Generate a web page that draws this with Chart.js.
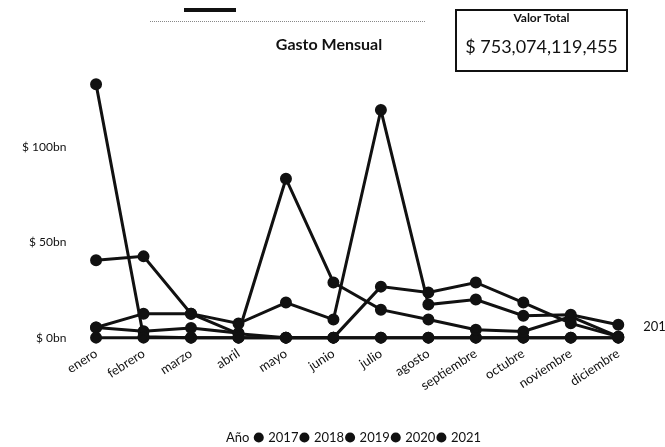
<!DOCTYPE html>
<html>
<head>
<meta charset="utf-8">
<script src="https://cdn.jsdelivr.net/npm/chart.js@4"></script>
<style>
  html, body { margin: 0; padding: 0; background: #fff; }
  #wrap { position: relative; width: 665px; height: 447px; overflow: hidden; }
  #c { position: absolute; left: 0; top: 0; }
  #kpi { position: absolute; left: 455px; top: 9px; width: 173px; height: 63px; border: 2px solid #111; box-sizing: border-box; text-align: center; font-family: Lato, "Liberation Sans", sans-serif; color: #111; }
  #kpi .t { font-weight: bold; font-size: 12px; line-height: 14px; margin-top: 0px; }
  #kpi .v { font-size: 18px; line-height: 20px; margin-top: 11px; }
  #bar { position: absolute; left: 184px; top: 8px; width: 52px; height: 4px; background: #111; }
  #faint { position: absolute; left: 150px; top: 21px; width: 275px; height: 0; border-top: 1px dotted #888; }
</style>
</head>
<body>
<div id="wrap">
  <canvas id="c" width="665" height="447"></canvas>
  <div id="bar"></div>
  <div id="faint"></div>
  <div id="kpi"><div class="t">Valor Total</div><div class="v">$ 753,074,119,455</div></div>
</div>
<script>
const months = ['enero','febrero','marzo','abril','mayo','junio','julio','agosto','septiembre','octubre','noviembre','diciembre'];
const years = ['2017','2018','2019','2020','2021'];
const v2017 = [0, 0, 0, 0, 0, 0, 26.8, 23.7, 29, 18.4, 7.5, 0.5];
const v2018 = [5.3, 12.6, 12.6, 7.4, 18.4, 9.5, 119.6, 17.4, 20, 11.5, 12, 6.8];
const v2019 = [5.3, 3.4, 5, 2.4, 83.5, 29, 14.7, 9.5, 4.2, 3.2, 11, 0.5];
const v2020 = [133.2, 0.5, 0, 0, 0, 0, 0, 0, 0, 0, 0, 0];
const v2021 = [40.6, 42.7, 12.6, 2, 0, 0, 0, 0, 0, 0, 0, 0];
const yTicks = [0, 50, 100];

const seriesValues = [v2017, v2018, v2019, v2020, v2021];
const FONT = 'Lato, "Liberation Sans", sans-serif';

const endLabel = {
  id: 'endLabel',
  afterDatasetsDraw(chart) {
    const meta = chart.getDatasetMeta(1);
    const p = meta.data[meta.data.length - 1];
    const ctx = chart.ctx;
    ctx.save();
    ctx.fillStyle = '#111';
    ctx.font = '13px ' + FONT;
    ctx.textBaseline = 'middle';
    ctx.fillText(years[1], p.x + 25, p.y + 2);
    ctx.restore();
  }
};

new Chart(document.getElementById('c'), {
  type: 'line',
  data: {
    labels: months,
    datasets: years.map((y, i) => ({
      label: y,
      data: seriesValues[i],
      borderColor: '#111',
      backgroundColor: '#111',
      borderWidth: 3,
      pointRadius: 4.5,
      pointBackgroundColor: '#111',
      pointBorderColor: '#111',
      tension: 0,
      clip: false
    }))
  },
  options: {
    responsive: false,
    animation: false,
    layout: { padding: { left: 16, right: 23, top: 0, bottom: -7 } },
    plugins: {
      title: {
        display: true,
        text: 'Gasto Mensual',
        color: '#111',
        font: { family: FONT, size: 16, weight: 'bold' },
        padding: { top: 35, bottom: 17 }
      },
      legend: {
        position: 'bottom',
        onClick: () => {},
        labels: {
          usePointStyle: true,
          pointStyle: 'circle',
          boxWidth: 6,
          boxHeight: 5,
          padding: 3,
          color: '#111',
          font: { family: FONT, size: 13 },
          generateLabels(chart) {
            const items = Chart.defaults.plugins.legend.labels.generateLabels(chart);
            items.forEach(it => { it.fillStyle = '#111'; it.strokeStyle = '#111'; });
            items.unshift({ text: '           Año ', fillStyle: 'rgba(0,0,0,0)', strokeStyle: 'rgba(0,0,0,0)', lineWidth: 0, pointStyle: 'circle', hidden: false, datasetIndex: -1, fontColor: '#111' });
            return items;
          }
        }
      },
      tooltip: { enabled: false }
    },
    scales: {
      x: {
        offset: true,
        grid: { display: false, drawTicks: false },
        border: { display: false },
        ticks: {
          autoSkip: false,
          minRotation: 33,
          maxRotation: 33,
          padding: 8,
          color: '#111',
          font: { family: FONT, size: 13 }
        },
        afterFit(axis) { axis.height = axis.height + 26.5; }
      },
      y: {
        min: 0,
        max: 140,
        grid: { display: false, drawTicks: false },
        border: { display: false },
        afterBuildTicks(axis) { axis.ticks = yTicks.map(v => ({ value: v })); },
        ticks: {
          padding: 6,
          color: '#111',
          font: { family: FONT, size: 12 },
          callback: v => '$ ' + v + 'bn'
        }
      }
    }
  },
  plugins: [endLabel]
});
</script>
</body>
</html>
